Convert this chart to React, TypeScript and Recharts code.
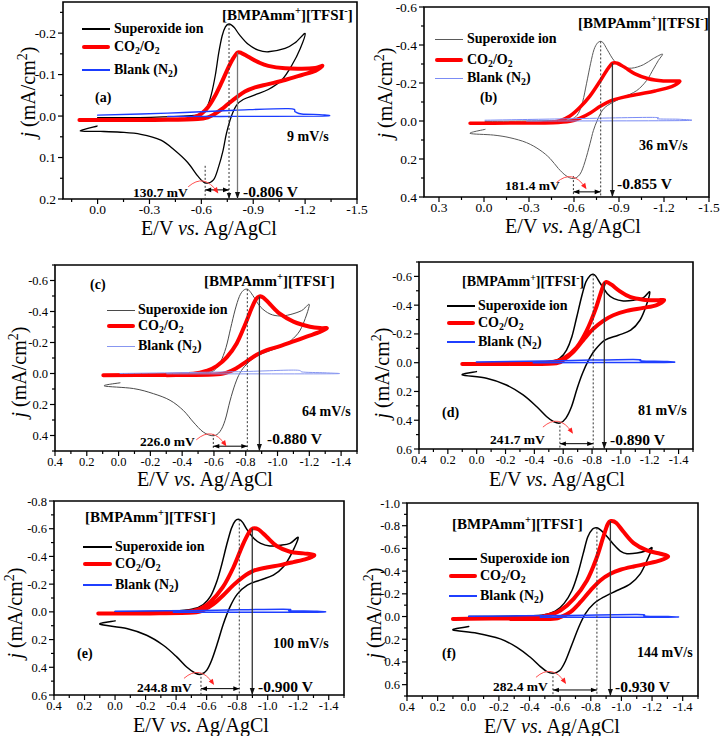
import React from 'react';
import { LineChart, Line, XAxis, YAxis, ReferenceArea, ReferenceLine, ReferenceDot } from 'recharts';

type Pt = [number, number];

// ---------------- Panel (a) 9 mV/s ----------------
const SUPEROXIDE_A: Pt[] = [[0.003,0.024],[0.1,0.036],[-0.017,0.037],[-0.133,0.039],[-0.25,0.044],[-0.366,0.058],[-0.444,0.082],[-0.521,0.112],[-0.58,0.145],[-0.622,0.161],[-0.67,0.154],[-0.7,0.122],[-0.726,0.082],[-0.745,0.042],[-0.774,0.0],[-0.803,-0.026],[-0.842,-0.04],[-0.91,-0.051],[-0.987,-0.064],[-1.065,-0.087],[-1.124,-0.123],[-1.172,-0.163],[-1.2,-0.199],[-1.143,-0.177],[-1.084,-0.163],[-0.987,-0.155],[-0.929,-0.159],[-0.871,-0.173],[-0.822,-0.195],[-0.789,-0.214],[-0.76,-0.222],[-0.739,-0.215],[-0.72,-0.193],[-0.7,-0.151],[-0.681,-0.099],[-0.657,-0.051],[-0.632,-0.021],[-0.6,-0.006],[-0.541,-0.001],[-0.308,0.003],[0.0,0.004]];
const CO2_A: Pt[] = [[0.105,0.0096],[-0.211,0.0096],[-0.483,0.008],[-0.56,0.003],[-0.599,-0.005],[-0.638,-0.021],[-0.677,-0.047],[-0.716,-0.08],[-0.754,-0.115],[-0.784,-0.139],[-0.809,-0.153],[-0.832,-0.152],[-0.871,-0.143],[-0.929,-0.13],[-0.987,-0.121],[-1.084,-0.115],[-1.181,-0.114],[-1.259,-0.116],[-1.3,-0.121],[-1.259,-0.109],[-1.181,-0.099],[-1.084,-0.087],[-0.987,-0.077],[-0.91,-0.069],[-0.852,-0.059],[-0.803,-0.045],[-0.754,-0.029],[-0.716,-0.016],[-0.677,-0.005],[-0.638,0.003],[-0.58,0.007],[-0.405,0.009],[-0.211,0.0096]];
const BLANK_A: Pt[] = [[0.0,-0.002],[-0.405,-0.007],[-0.793,-0.014],[-1.104,-0.018],[-1.143,-0.01],[-1.18,-0.005],[-1.3,-0.003],[-1.3,0.0],[-0.793,0.001],[-0.405,0.001]];

// ---------------- Panel (b) 36 mV/s ----------------
const SUPEROXIDE_B: Pt[] = [[-0.007,0.044],[0.093,0.065],[-0.062,0.074],[-0.173,0.088],[-0.284,0.114],[-0.373,0.153],[-0.44,0.197],[-0.496,0.25],[-0.547,0.288],[-0.596,0.303],[-0.64,0.28],[-0.673,0.215],[-0.707,0.118],[-0.729,0.051],[-0.756,-0.005],[-0.791,-0.058],[-0.84,-0.09],[-0.929,-0.125],[-1.018,-0.16],[-1.084,-0.213],[-1.129,-0.273],[-1.162,-0.318],[-1.19,-0.352],[-1.129,-0.329],[-1.062,-0.296],[-0.984,-0.278],[-0.918,-0.287],[-0.867,-0.318],[-0.822,-0.375],[-0.796,-0.41],[-0.778,-0.419],[-0.756,-0.41],[-0.733,-0.375],[-0.711,-0.304],[-0.684,-0.199],[-0.658,-0.102],[-0.629,-0.04],[-0.591,-0.012],[-0.529,-0.004],[-0.284,0.0],[-0.007,0.002]];
const CO2_B: Pt[] = [[0.093,0.012],[-0.173,0.011],[-0.396,0.009],[-0.507,-0.002],[-0.573,-0.026],[-0.64,-0.072],[-0.707,-0.132],[-0.773,-0.209],[-0.818,-0.266],[-0.856,-0.304],[-0.889,-0.304],[-0.94,-0.281],[-1.007,-0.248],[-1.096,-0.222],[-1.196,-0.211],[-1.273,-0.211],[-1.305,-0.208],[-1.251,-0.181],[-1.14,-0.158],[-1.029,-0.141],[-0.918,-0.123],[-0.844,-0.106],[-0.778,-0.079],[-0.711,-0.044],[-0.644,-0.016],[-0.573,0.002],[-0.462,0.009],[-0.173,0.011]];
const BLANK_B: Pt[] = [[-0.007,-0.004],[-0.507,-0.011],[-1.107,-0.019],[-1.162,-0.011],[-1.305,-0.009],[-1.305,-0.002],[-0.284,0.0]];

// ---------------- Panel (c) 64 mV/s ----------------
const SUPEROXIDE_C: Pt[] = [[-0.009,0.06],[0.09,0.08],[-0.093,0.097],[-0.219,0.13],[-0.324,0.173],[-0.407,0.238],[-0.47,0.313],[-0.533,0.378],[-0.596,0.402],[-0.638,0.374],[-0.67,0.302],[-0.701,0.177],[-0.733,0.069],[-0.764,-0.004],[-0.806,-0.06],[-0.869,-0.112],[-0.953,-0.147],[-1.037,-0.181],[-1.1,-0.227],[-1.152,-0.298],[-1.2,-0.443],[-1.152,-0.406],[-1.079,-0.38],[-1.016,-0.371],[-0.953,-0.384],[-0.894,-0.428],[-0.852,-0.492],[-0.827,-0.529],[-0.81,-0.544],[-0.785,-0.536],[-0.76,-0.497],[-0.733,-0.41],[-0.705,-0.292],[-0.676,-0.168],[-0.642,-0.076],[-0.607,-0.026],[-0.554,-0.006],[-0.303,0.0],[-0.009,0.002]];
const CO2_C: Pt[] = [[0.096,0.011],[-0.303,0.009],[-0.47,0.002],[-0.554,-0.017],[-0.617,-0.048],[-0.68,-0.104],[-0.743,-0.194],[-0.795,-0.313],[-0.837,-0.421],[-0.865,-0.48],[-0.886,-0.497],[-0.911,-0.49],[-0.953,-0.447],[-1.016,-0.384],[-1.1,-0.335],[-1.204,-0.302],[-1.278,-0.292],[-1.31,-0.292],[-1.267,-0.268],[-1.183,-0.238],[-1.1,-0.207],[-1.016,-0.177],[-0.932,-0.151],[-0.869,-0.121],[-0.806,-0.078],[-0.743,-0.035],[-0.68,-0.006],[-0.596,0.006],[-0.303,0.011]];
const BLANK_C: Pt[] = [[-0.009,0.0],[-0.722,-0.011],[-1.1,-0.022],[-1.163,-0.009],[-1.31,-0.004],[-1.31,0.002],[-0.303,0.002]];

// ---------------- Panel (d) 81 mV/s ----------------
const SUPEROXIDE_D: Pt[] = [[0.002,0.062],[0.1,0.085],[-0.068,0.108],[-0.206,0.155],[-0.322,0.224],[-0.415,0.305],[-0.484,0.374],[-0.531,0.408],[-0.577,0.42],[-0.619,0.385],[-0.658,0.305],[-0.697,0.178],[-0.734,0.074],[-0.774,-0.014],[-0.82,-0.088],[-0.889,-0.157],[-0.982,-0.191],[-1.068,-0.226],[-1.132,-0.295],[-1.174,-0.392],[-1.2,-0.491],[-1.156,-0.452],[-1.086,-0.434],[-1.017,-0.429],[-0.952,-0.445],[-0.906,-0.48],[-0.859,-0.549],[-0.827,-0.6],[-0.808,-0.614],[-0.785,-0.604],[-0.757,-0.561],[-0.727,-0.457],[-0.693,-0.314],[-0.66,-0.18],[-0.623,-0.088],[-0.577,-0.032],[-0.507,-0.009],[-0.23,-0.002],[0.002,0.0]];
const CO2_D: Pt[] = [[0.1,0.009],[-0.345,0.007],[-0.507,-0.002],[-0.6,-0.028],[-0.693,-0.106],[-0.762,-0.221],[-0.82,-0.36],[-0.855,-0.468],[-0.882,-0.544],[-0.9,-0.561],[-0.935,-0.542],[-0.994,-0.496],[-1.063,-0.457],[-1.156,-0.438],[-1.248,-0.434],[-1.3,-0.434],[-1.248,-0.401],[-1.156,-0.381],[-1.04,-0.36],[-0.947,-0.33],[-0.878,-0.291],[-0.808,-0.235],[-0.739,-0.157],[-0.669,-0.074],[-0.6,-0.018],[-0.531,0.005],[-0.23,0.009]];
const BLANK_D: Pt[] = [[0.002,-0.005],[-0.577,-0.014],[-1.086,-0.023],[-1.144,-0.012],[-1.3,-0.009],[-1.3,-0.002],[-0.392,0.0]];

// ---------------- Panel (e) 100 mV/s ----------------
const SUPEROXIDE_E: Pt[] = [[0.0,0.065],[0.099,0.089],[-0.076,0.12],[-0.207,0.169],[-0.316,0.241],[-0.404,0.325],[-0.469,0.398],[-0.524,0.441],[-0.563,0.451],[-0.6,0.422],[-0.633,0.349],[-0.67,0.229],[-0.709,0.089],[-0.753,-0.036],[-0.801,-0.128],[-0.867,-0.193],[-0.95,-0.229],[-1.037,-0.265],[-1.103,-0.325],[-1.157,-0.422],[-1.2,-0.537],[-1.146,-0.494],[-1.081,-0.48],[-1.015,-0.475],[-0.954,-0.494],[-0.91,-0.53],[-0.867,-0.59],[-0.836,-0.646],[-0.814,-0.667],[-0.788,-0.658],[-0.762,-0.602],[-0.731,-0.482],[-0.698,-0.337],[-0.666,-0.217],[-0.626,-0.113],[-0.578,-0.053],[-0.513,-0.022],[-0.382,-0.007],[0.0,0.0]];
const CO2_E: Pt[] = [[0.11,0.012],[-0.382,0.007],[-0.535,-0.014],[-0.622,-0.07],[-0.705,-0.176],[-0.775,-0.32],[-0.836,-0.482],[-0.88,-0.578],[-0.903,-0.602],[-0.939,-0.595],[-0.993,-0.542],[-1.059,-0.475],[-1.146,-0.434],[-1.234,-0.422],[-1.305,-0.41],[-1.255,-0.383],[-1.168,-0.359],[-1.081,-0.337],[-0.993,-0.32],[-0.906,-0.296],[-0.84,-0.253],[-0.775,-0.193],[-0.709,-0.12],[-0.644,-0.055],[-0.578,-0.012],[-0.513,0.005],[-0.229,0.012]];
const BLANK_E: Pt[] = [[0.0,-0.005],[-0.557,-0.01],[-1.103,-0.019],[-1.146,-0.007],[-1.305,-0.005],[-1.305,0.002],[-0.382,0.002]];

// ---------------- Panel (f) 144 mV/s ----------------
const SUPEROXIDE_F: Pt[] = [[-0.003,0.088],[0.1,0.118],[-0.057,0.147],[-0.209,0.197],[-0.318,0.271],[-0.405,0.359],[-0.471,0.441],[-0.514,0.485],[-0.553,0.5],[-0.597,0.476],[-0.634,0.394],[-0.677,0.247],[-0.721,0.094],[-0.764,-0.024],[-0.819,-0.112],[-0.884,-0.171],[-0.971,-0.229],[-1.058,-0.288],[-1.123,-0.376],[-1.167,-0.494],[-1.2,-0.603],[-1.167,-0.582],[-1.102,-0.559],[-1.036,-0.553],[-0.993,-0.576],[-0.949,-0.635],[-0.906,-0.706],[-0.867,-0.759],[-0.84,-0.782],[-0.812,-0.771],[-0.78,-0.7],[-0.749,-0.547],[-0.714,-0.371],[-0.677,-0.229],[-0.627,-0.118],[-0.568,-0.047],[-0.481,-0.012],[-0.275,-0.003],[-0.003,0.0]];
const CO2_F: Pt[] = [[0.1,0.021],[-0.383,0.012],[-0.514,-0.009],[-0.601,-0.053],[-0.688,-0.156],[-0.775,-0.318],[-0.836,-0.509],[-0.88,-0.694],[-0.91,-0.812],[-0.932,-0.841],[-0.967,-0.824],[-1.015,-0.744],[-1.08,-0.647],[-1.167,-0.582],[-1.254,-0.553],[-1.305,-0.529],[-1.254,-0.494],[-1.167,-0.465],[-1.08,-0.441],[-0.993,-0.412],[-0.928,-0.376],[-0.862,-0.318],[-0.797,-0.229],[-0.732,-0.126],[-0.666,-0.038],[-0.601,0.006],[-0.536,0.021],[-0.275,0.021]];
const BLANK_F: Pt[] = [[-0.003,-0.003],[-0.601,-0.009],[-1.102,-0.018],[-1.156,-0.003],[-1.305,0.0],[-1.305,0.006],[-0.47,0.006]];

// ---------------- Ticks ----------------
const X_TICKS_A = [0.15, 0, -0.15, -0.3, -0.45, -0.6, -0.75, -0.9, -1.05, -1.2, -1.35, -1.5];
const Y_TICKS_A = [-0.25, -0.2, -0.15, -0.1, -0.05, 0, 0.05, 0.1, 0.15, 0.2];
const X_TICKS_B = [0.3, 0.15, 0, -0.15, -0.3, -0.45, -0.6, -0.75, -0.9, -1.05, -1.2, -1.35, -1.5];
const Y_TICKS_B = [-0.6, -0.5, -0.4, -0.3, -0.2, -0.1, 0, 0.1, 0.2, 0.3, 0.4];
const X_TICKS_CF = [0.4, 0.3, 0.2, 0.1, 0, -0.1, -0.2, -0.3, -0.4, -0.5, -0.6, -0.7, -0.8, -0.9, -1.0, -1.1, -1.2, -1.3, -1.4, -1.5];
const Y_TICKS_C = [-0.7, -0.6, -0.5, -0.4, -0.3, -0.2, -0.1, 0, 0.1, 0.2, 0.3, 0.4, 0.5];
const Y_TICKS_D = [-0.7, -0.6, -0.5, -0.4, -0.3, -0.2, -0.1, 0, 0.1, 0.2, 0.3, 0.4, 0.5, 0.6];
const Y_TICKS_E = [-0.8, -0.7, -0.6, -0.5, -0.4, -0.3, -0.2, -0.1, 0, 0.1, 0.2, 0.3, 0.4, 0.5, 0.6];
const Y_TICKS_F = [-1.0, -0.9, -0.8, -0.7, -0.6, -0.5, -0.4, -0.3, -0.2, -0.1, 0, 0.1, 0.2, 0.3, 0.4, 0.5, 0.6, 0.7];

const FONT = '"Liberation Serif","Times New Roman",serif';

function catmullRom(context: any) {
  let pts: number[][] = [];
  return {
    areaStart() {},
    areaEnd() {},
    lineStart() { pts = []; },
    point(x: number, y: number) { pts.push([+x, +y]); },
    lineEnd() {
      const n = pts.length;
      if (!n) return;
      context.moveTo(pts[0][0], pts[0][1]);
      for (let i = 0; i < n - 1; i++) {
        const p0 = pts[Math.max(i - 1, 0)];
        const p1 = pts[i];
        const p2 = pts[i + 1];
        const p3 = pts[Math.min(i + 2, n - 1)];
        const k = 1 / 6;
        context.bezierCurveTo(
          p1[0] + (p2[0] - p0[0]) * k, p1[1] + (p2[1] - p0[1]) * k,
          p2[0] - (p3[0] - p1[0]) * k, p2[1] - (p3[1] - p1[1]) * k,
          p2[0], p2[1]);
      }
    },
  };
}

const isMajor = (v: number, step: number) => Math.abs(v / step - Math.round(v / step)) < 1e-6;

function makeXTick(fs: number, step: number) {
  return (p: any) => {
    const { x, y, payload } = p;
    const v = payload.value as number;
    const mj = isMajor(v, step);
    return (
      <g>
        <line x1={x} y1={y} x2={x} y2={y + (mj ? 5 : 3)} stroke="#000" strokeWidth={1.2} />
        {mj ? <text x={x} y={y + 15} textAnchor="middle" fontSize={fs} fontFamily={FONT} fill="#000">{v.toFixed(1)}</text> : null}
      </g>
    );
  };
}
function makeYTick(fs: number, step: number) {
  return (p: any) => {
    const { x, y, payload } = p;
    const v = payload.value as number;
    const mj = isMajor(v, step);
    return (
      <g>
        <line x1={x - (mj ? 5 : 3)} y1={y} x2={x} y2={y} stroke="#000" strokeWidth={1.2} />
        {mj ? <text x={x - 7} y={y + 4.5} textAnchor="end" fontSize={fs} fontFamily={FONT} fill="#000">{v.toFixed(1)}</text> : null}
      </g>
    );
  };
}

function arrowShape(dir: string, color: string, len = 6, half = 2.5) {
  return (p: any) => {
    const { cx, cy } = p;
    let d = '';
    if (dir === 'down') d = `M${cx},${cy}L${cx - half},${cy - len}L${cx + half},${cy - len}Z`;
    else if (dir === 'left') d = `M${cx},${cy}L${cx + len},${cy - half}L${cx + len},${cy + half}Z`;
    else d = `M${cx},${cy}L${cx - len},${cy - half}L${cx - len},${cy + half}Z`;
    return <path d={d} fill={color} />;
  };
}

const redArc = (p: any) => {
  const { cx, cy } = p;
  const sx = cx - 17, sy = cy + 4, qx = cx - 1, qy = cy - 10, ex = cx + 12, ey = cy + 9;
  const dx = ex - qx, dy = ey - qy, m = Math.hypot(dx, dy), ux = dx / m, uy = dy / m;
  const tx = ex + ux * 2, ty = ey + uy * 2, bx = ex - ux * 4, by = ey - uy * 4;
  const head = `M${tx},${ty}L${bx - uy * 2.5},${by + ux * 2.5}L${bx + uy * 2.5},${by - ux * 2.5}Z`;
  return (
    <g>
      <path d={`M${sx},${sy}Q${qx},${qy} ${ex},${ey}`} fill="none" stroke="#ff5050" strokeWidth={1} />
      <path d={head} fill="#ff2020" />
    </g>
  );
};

interface Series { data: Pt[]; color: string; width: number; }
interface Ann { ec: number; jcTop: number; jcPeak: number; es: number; jsTop: number; eco: number; jcoTop: number; arrowJ: number; esArrow?: boolean; ecoColor: string; }
interface PanelCfg {
  left: number; top: number; width: number; height: number;
  box: [number, number, number, number];
  xDomain: [number, number]; yDomain: [number, number];
  xTicks: number[]; yTicks: number[]; xStep: number; yStep: number; fs: number;
  series: Series[]; ann: Ann;
}

const toXY = (d: Pt[]) => d.map(([x, y]) => ({ x, y }));

function Panel({ cfg }: { cfg: PanelCfg }) {
  const [L, T, R, B] = cfg.box;
  const margin = { left: L - cfg.left - 40, top: T - cfg.top, right: cfg.left + cfg.width - R, bottom: cfg.top + cfg.height - B - 20 };
  const [xmin, xmax] = cfg.xDomain;
  const [ymin, ymax] = cfg.yDomain;
  const a = cfg.ann;
  const bottom = ymax;
  const items: any[] = [];
  items.push(<ReferenceArea key="frame" x1={xmin} x2={xmax} y1={ymin} y2={ymax} fill="none" fillOpacity={0} stroke="#000" strokeWidth={1.6} ifOverflow="visible" />);
  cfg.series.forEach((s, i) => {
    items.push(<Line key={'s' + i} data={toXY(s.data)} dataKey="y" type={catmullRom as any} stroke={s.color} strokeWidth={s.width} dot={false} activeDot={false} isAnimationActive={false} strokeLinejoin="round" strokeLinecap="round" />);
  });
  items.push(<ReferenceLine key="lc" segment={[{ x: a.ec, y: a.jcTop }, { x: a.ec, y: bottom }]} stroke="#333" strokeWidth={1} strokeDasharray="2 2" ifOverflow="visible" />);
  items.push(<ReferenceLine key="ls" segment={[{ x: a.es, y: a.jsTop }, { x: a.es, y: bottom }]} stroke="#333" strokeWidth={1} strokeDasharray="2 2" ifOverflow="visible" />);
  items.push(<ReferenceLine key="lco" segment={[{ x: a.eco, y: a.jcoTop }, { x: a.eco, y: bottom }]} stroke={a.ecoColor} strokeWidth={1.3} ifOverflow="visible" />);
  items.push(<ReferenceDot key="aco" x={a.eco} y={bottom} ifOverflow="visible" shape={arrowShape('down', '#111', 7, 2.5)} />);
  if (a.esArrow) items.push(<ReferenceDot key="aes" x={a.es} y={bottom} ifOverflow="visible" shape={arrowShape('down', '#111', 6, 2.2)} />);
  items.push(<ReferenceLine key="dbl" segment={[{ x: a.ec, y: a.arrowJ }, { x: a.es, y: a.arrowJ }]} stroke="#000" strokeWidth={1} ifOverflow="visible" />);
  items.push(<ReferenceDot key="al" x={a.ec} y={a.arrowJ} ifOverflow="visible" shape={arrowShape('left', '#000', 6, 2.3)} />);
  items.push(<ReferenceDot key="ar" x={a.es} y={a.arrowJ} ifOverflow="visible" shape={arrowShape('right', '#000', 6, 2.3)} />);
  items.push(<ReferenceDot key="arc" x={a.ec} y={a.jcPeak} ifOverflow="visible" shape={redArc} />);
  return (
    <div style={{ position: 'absolute', left: cfg.left, top: cfg.top }}>
      <LineChart width={cfg.width} height={cfg.height} margin={margin}>
        <XAxis type="number" dataKey="x" domain={[xmin, xmax]} reversed allowDataOverflow ticks={cfg.xTicks} interval={0} tickSize={0} tickMargin={0} axisLine={false} tickLine={false} height={20} tick={makeXTick(cfg.fs, cfg.xStep)} />
        <YAxis type="number" domain={[ymin, ymax]} reversed allowDataOverflow ticks={cfg.yTicks} interval={0} tickSize={0} tickMargin={0} axisLine={false} tickLine={false} width={40} tick={makeYTick(cfg.fs, cfg.yStep)} />
        {items}
      </LineChart>
    </div>
  );
}

const RED = '#ff0000';

const PANELS: PanelCfg[] = [
  {
    left: 0, top: 0, width: 360, height: 240, box: [63, 2, 357, 199],
    xDomain: [-1.5, 0.2], yDomain: [-0.275, 0.2], xTicks: X_TICKS_A, yTicks: Y_TICKS_A, xStep: 0.3, yStep: 0.1, fs: 13.5,
    series: [{ data: SUPEROXIDE_A, color: '#000', width: 1.3 }, { data: CO2_A, color: RED, width: 4 }, { data: BLANK_A, color: '#1a3cff', width: 1.3 }],
    ann: { ec: -0.622, jcTop: 0.12, jcPeak: 0.161, es: -0.76, jsTop: -0.222, eco: -0.809, jcoTop: -0.153, arrowJ: 0.178, esArrow: true, ecoColor: '#777' },
  },
  {
    left: 360, top: 0, width: 360, height: 240, box: [424, 7, 709, 197],
    xDomain: [-1.5, 0.4], yDomain: [-0.6, 0.4], xTicks: X_TICKS_B, yTicks: Y_TICKS_B, xStep: 0.3, yStep: 0.2, fs: 13.5,
    series: [{ data: SUPEROXIDE_B, color: '#5a5a5a', width: 1 }, { data: CO2_B, color: RED, width: 3.5 }, { data: BLANK_B, color: '#7b8cf5', width: 1 }],
    ann: { ec: -0.596, jcTop: 0.29, jcPeak: 0.303, es: -0.778, jsTop: -0.419, eco: -0.856, jcoTop: -0.304, arrowJ: 0.373, ecoColor: '#333' },
  },
  {
    left: 0, top: 240, width: 360, height: 240, box: [55, 265, 357, 451],
    xDomain: [-1.5, 0.4], yDomain: [-0.7, 0.5], xTicks: X_TICKS_CF, yTicks: Y_TICKS_C, xStep: 0.2, yStep: 0.2, fs: 12.5,
    series: [{ data: SUPEROXIDE_C, color: '#4a4a4a', width: 1 }, { data: CO2_C, color: RED, width: 4 }, { data: BLANK_C, color: '#8796f0', width: 1 }],
    ann: { ec: -0.596, jcTop: 0.39, jcPeak: 0.402, es: -0.81, jsTop: -0.544, eco: -0.886, jcoTop: -0.497, arrowJ: 0.469, ecoColor: '#333' },
  },
  {
    left: 360, top: 240, width: 360, height: 240, box: [419, 262, 693, 449],
    xDomain: [-1.5, 0.4], yDomain: [-0.7, 0.6], xTicks: X_TICKS_CF, yTicks: Y_TICKS_D, xStep: 0.2, yStep: 0.2, fs: 12.5,
    series: [{ data: SUPEROXIDE_D, color: '#000', width: 1.5 }, { data: CO2_D, color: RED, width: 4 }, { data: BLANK_D, color: '#1f3fff', width: 1.5 }],
    ann: { ec: -0.577, jcTop: 0.41, jcPeak: 0.42, es: -0.808, jsTop: -0.614, eco: -0.885, jcoTop: -0.561, arrowJ: 0.563, ecoColor: '#333' },
  },
  {
    left: 0, top: 480, width: 360, height: 256, box: [54, 501, 344, 695],
    xDomain: [-1.5, 0.4], yDomain: [-0.8, 0.6], xTicks: X_TICKS_CF, yTicks: Y_TICKS_E, xStep: 0.2, yStep: 0.2, fs: 12.5,
    series: [{ data: SUPEROXIDE_E, color: '#000', width: 1.5 }, { data: CO2_E, color: RED, width: 4 }, { data: BLANK_E, color: '#1f3fff', width: 1.5 }],
    ann: { ec: -0.563, jcTop: 0.44, jcPeak: 0.451, es: -0.814, jsTop: -0.667, eco: -0.899, jcoTop: -0.602, arrowJ: 0.554, ecoColor: '#333' },
  },
  {
    left: 360, top: 480, width: 360, height: 256, box: [407, 503, 698, 696],
    xDomain: [-1.5, 0.4], yDomain: [-1.0, 0.7], xTicks: X_TICKS_CF, yTicks: Y_TICKS_F, xStep: 0.2, yStep: 0.2, fs: 12.5,
    series: [{ data: SUPEROXIDE_F, color: '#000', width: 1.5 }, { data: CO2_F, color: RED, width: 4 }, { data: BLANK_F, color: '#1f3fff', width: 1.5 }],
    ann: { ec: -0.553, jcTop: 0.49, jcPeak: 0.5, es: -0.84, jsTop: -0.782, eco: -0.928, jcoTop: -0.841, arrowJ: 0.647, ecoColor: '#333' },
  },
];

const Sup = ({ children }: any) => <span style={{ fontSize: '0.7em', position: 'relative', top: '-0.55em', lineHeight: 0 }}>{children}</span>;
const Sub = ({ children }: any) => <span style={{ fontSize: '0.7em', position: 'relative', top: '0.3em', lineHeight: 0 }}>{children}</span>;

const Txt = ({ x, y, s = 14, b = true, children }: any) => (
  <div style={{ position: 'absolute', left: x, top: y, transform: 'translateY(-50%)', fontFamily: FONT, fontSize: s, fontWeight: b ? 'bold' : 'normal', whiteSpace: 'nowrap', lineHeight: 1, color: '#000' }}>{children}</div>
);

const XTitle = ({ x, y }: any) => (
  <div style={{ position: 'absolute', left: x, top: y, transform: 'translate(-50%,-50%)', fontFamily: FONT, fontSize: 20, whiteSpace: 'nowrap', lineHeight: 1 }}>E/V <i>vs.</i> Ag/AgCl</div>
);
const YTitle = ({ x, y }: any) => (
  <div style={{ position: 'absolute', left: x, top: y, transform: 'translate(-50%,-50%) rotate(-90deg)', fontFamily: FONT, fontSize: 20, whiteSpace: 'nowrap', lineHeight: 1 }}><i>j</i> (mA/cm<Sup>2</Sup>)</div>
);

const Legend = ({ x1, x2, tx, ys, colors, widths }: any) => (
  <>
    {[0, 1, 2].map((i) => (
      <div key={'l' + i} style={{ position: 'absolute', left: x1, top: ys[i] - widths[i] / 2, width: x2 - x1, height: widths[i], background: colors[i], borderRadius: widths[i] > 2 ? 2 : 0 }} />
    ))}
    <Txt x={tx} y={ys[0]}>Superoxide ion</Txt>
    <Txt x={tx} y={ys[1]}>CO<Sub>2</Sub>/O<Sub>2</Sub></Txt>
    <Txt x={tx} y={ys[2]}>Blank (N<Sub>2</Sub>)</Txt>
  </>
);

const Bracket = ({ x, y, s = 15 }: any) => (
  <Txt x={x} y={y} s={s}>[BMPAmm<Sup>+</Sup>][TFSI<Sup>-</Sup>]</Txt>
);

export default function App() {
  return (
    <div style={{ position: 'absolute', left: 0, top: 0, width: 720, height: 736, background: '#fff', overflow: 'hidden' }}>
      <style>{'.recharts-surface{overflow:visible}'}</style>
      {PANELS.map((c, i) => <Panel key={i} cfg={c} />)}

      {/* (a) */}
      <Legend x1={82} x2={110} tx={114} ys={[29, 47, 70]} colors={['#000', RED, '#1a3cff']} widths={[1.5, 4, 1.5]} />
      <Bracket x={222} y={15} />
      <Txt x={95} y={98}>(a)</Txt>
      <Txt x={287} y={137}>9 mV/s</Txt>
      <Txt x={133} y={193} s={13.5}>130.7 mV</Txt>
      <Txt x={243} y={192} s={15.5}>-0.806 V</Txt>
      <XTitle x={209} y={228} />
      <YTitle x={28} y={92} />

      {/* (b) */}
      <Legend x1={435} x2={463} tx={467} ys={[39, 60, 78]} colors={['#5a5a5a', RED, '#7b8cf5']} widths={[1, 3.5, 1]} />
      <Bracket x={578} y={23} />
      <Txt x={480} y={98}>(b)</Txt>
      <Txt x={639} y={146}>36 mV/s</Txt>
      <Txt x={505} y={186} s={13.5}>181.4 mV</Txt>
      <Txt x={617} y={184} s={15.5}>-0.855 V</Txt>
      <XTitle x={573} y={226} />
      <YTitle x={385} y={93} />

      {/* (c) */}
      <Legend x1={107} x2={135} tx={138} ys={[310, 326, 346]} colors={['#4a4a4a', RED, '#8796f0']} widths={[1, 4, 1]} />
      <Bracket x={204} y={281} />
      <Txt x={90} y={285}>(c)</Txt>
      <Txt x={302} y={412}>64 mV/s</Txt>
      <Txt x={140} y={442} s={13.5}>226.0 mV</Txt>
      <Txt x={267} y={439} s={15.5}>-0.880 V</Txt>
      <XTitle x={205} y={479} />
      <YTitle x={19} y={372} />

      {/* (d) */}
      <Legend x1={447} x2={475} tx={478} ys={[306, 323, 342]} colors={['#000', RED, '#1f3fff']} widths={[1.5, 4, 1.5]} />
      <Bracket x={462} y={282} s={14} />
      <Txt x={442} y={413}>(d)</Txt>
      <Txt x={638} y={411}>81 mV/s</Txt>
      <Txt x={490} y={440} s={13.5}>241.7 mV</Txt>
      <Txt x={610} y={440} s={15.5}>-0.890 V</Txt>
      <XTitle x={557} y={479} />
      <YTitle x={382} y={373} />

      {/* (e) */}
      <Legend x1={83} x2={112} tx={115} ys={[547, 564, 585]} colors={['#000', RED, '#1f3fff']} widths={[1.5, 4, 1.5]} />
      <Bracket x={85} y={517} />
      <Txt x={77} y={654}>(e)</Txt>
      <Txt x={273} y={644}>100 mV/s</Txt>
      <Txt x={137} y={688} s={13.5}>244.8 mV</Txt>
      <Txt x={258} y={687} s={15.5}>-0.900 V</Txt>
      <XTitle x={201} y={725} />
      <YTitle x={15} y={613} />

      {/* (f) */}
      <Legend x1={449} x2={477} tx={480} ys={[559, 576, 596]} colors={['#000', RED, '#1f3fff']} widths={[1.5, 4, 1.5]} />
      <Bracket x={452} y={524} />
      <Txt x={442} y={654}>(f)</Txt>
      <Txt x={637} y={653}>144 mV/s</Txt>
      <Txt x={493} y={687} s={13.5}>282.4 mV</Txt>
      <Txt x={615} y={687} s={15.5}>-0.930 V</Txt>
      <XTitle x={552} y={726} />
      <YTitle x={374} y={613} />
    </div>
  );
}
